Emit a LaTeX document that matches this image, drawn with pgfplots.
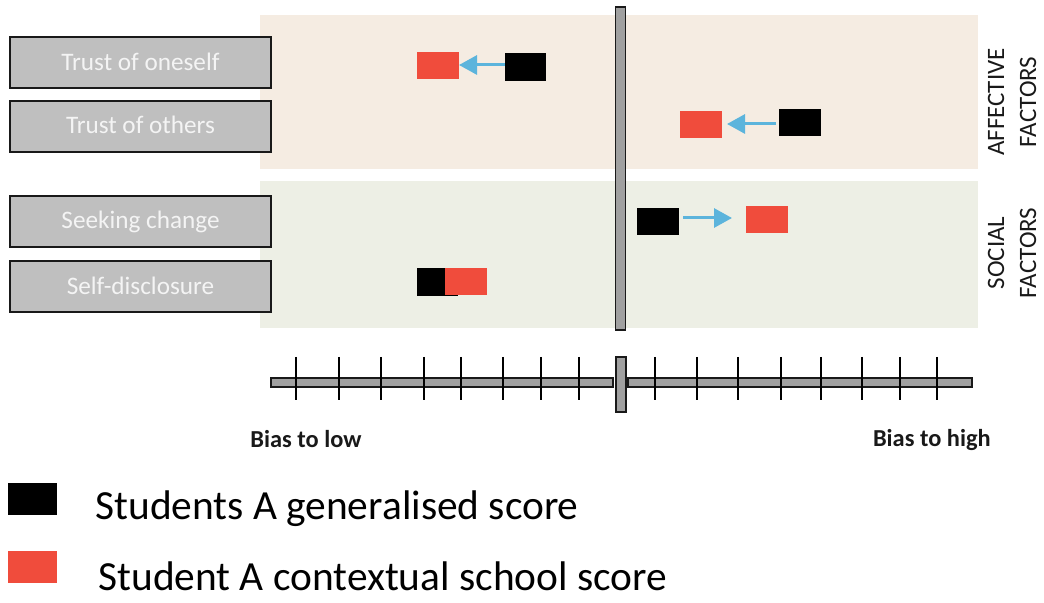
\documentclass[border=0pt]{standalone}
\usepackage{fontspec}
\setmainfont{Carlito}
\usepackage{pgfplots}
\pgfplotsset{compat=1.18}
\usetikzlibrary{arrows.meta}

\definecolor{affbg}{HTML}{F5ECE2}
\definecolor{socbg}{HTML}{EDEFE5}
\definecolor{boxgray}{HTML}{BFBFBF}
\definecolor{bargray}{HTML}{A0A0A0}
\definecolor{ctxred}{HTML}{F04C3C}
\definecolor{arrowblue}{HTML}{5CB4DC}
\definecolor{lbltext}{HTML}{F4F4F4}

\begin{document}
\begin{tikzpicture}
\begin{axis}[
  x=0.5pt, y=0.5pt, y dir=reverse,
  xmin=0, xmax=1044, ymin=0, ymax=603,
  hide axis, clip=false,
]
\path (axis cs:0,0) rectangle (axis cs:1044,603);

% background panels
\addplot[fill=affbg, draw=none] coordinates {(260,15) (978,15) (978,169) (260,169)} -- cycle;
\addplot[fill=socbg, draw=none] coordinates {(260,181) (978,181) (978,328) (260,328)} -- cycle;

% factor label boxes
\addplot[fill=boxgray, draw=black!90, line width=1pt] coordinates {(9.5,37.5) (270.5,37.5) (270.5,88.5) (9.5,88.5)} -- cycle;
\addplot[fill=boxgray, draw=black!90, line width=1pt] coordinates {(9.5,101.5) (270.5,101.5) (270.5,152.5) (9.5,152.5)} -- cycle;
\addplot[fill=boxgray, draw=black!90, line width=1pt] coordinates {(9.5,196.5) (270.5,196.5) (270.5,247.5) (9.5,247.5)} -- cycle;
\addplot[fill=boxgray, draw=black!90, line width=1pt] coordinates {(9.5,261.5) (270.5,261.5) (270.5,312.5) (9.5,312.5)} -- cycle;
\node[anchor=base, text=lbltext, font=\fontsize{12.6}{15}\selectfont] at (axis cs:140.5,71) {Trust of oneself};
\node[anchor=base, text=lbltext, font=\fontsize{12.6}{15}\selectfont] at (axis cs:140.5,133.5) {Trust of others};
\node[anchor=base, text=lbltext, font=\fontsize{12.6}{15}\selectfont] at (axis cs:140.5,229) {Seeking change};
\node[anchor=base, text=lbltext, font=\fontsize{12.6}{15}\selectfont] at (axis cs:140.5,295) {Self-disclosure};

% group labels
\node[rotate=90, align=center, text=black!90, font=\fontsize{12.5}{16}\selectfont] at (axis cs:1012,102) {AFFECTIVE\\FACTORS};
\node[rotate=90, align=center, text=black!90, font=\fontsize{12.5}{16}\selectfont] at (axis cs:1012,253) {SOCIAL\\FACTORS};

% centre divider
\addplot[fill=bargray, draw=black!90, line width=0.6pt] coordinates {(615.5,7) (625.5,7) (625.5,330) (615.5,330)} -- cycle;

% change arrows
\addplot[arrowblue, line width=1.5pt, -{Triangle[length=9pt, width=9.5pt]}] coordinates {(507,65) (459,65)};
\addplot[arrowblue, line width=1.5pt, -{Triangle[length=9pt, width=9.5pt]}] coordinates {(776,124) (727,124)};
\addplot[arrowblue, line width=1.5pt, -{Triangle[length=9pt, width=9.5pt]}] coordinates {(683,218) (732,218)};

% generalised scores (black)
\addplot[black, only marks, mark=square*, mark size=6.6pt, mark options={fill=black, draw=black, line width=0pt, xscale=1.55}]
  coordinates {(525.5,67) (800,122.5) (658,221.5) (437.5,282)};
% contextual school scores (red)
\addplot[ctxred, only marks, mark=square*, mark size=6.5pt, mark options={fill=ctxred, draw=ctxred, line width=0pt, xscale=1.54}]
  coordinates {(438,66) (701,125) (767,220) (466,282)};

% bias scale
\addplot[fill=bargray, draw=black!90, line width=0.6pt] coordinates {(271,378) (613,378) (613,387) (271,387)} -- cycle;
\addplot[fill=bargray, draw=black!90, line width=0.6pt] coordinates {(628,378) (972,378) (972,387) (628,387)} -- cycle;
\addplot[black, only marks, mark=|, mark size=10.75pt, mark options={black, line width=0.7pt}]
  coordinates {(296,378.5) (339,378.5) (381,378.5) (424,378.5) (461,378.5) (503,378.5) (541,378.5) (579,378.5)
               (655,378.5) (697,378.5) (738,378.5) (781,378.5) (821,378.5) (862,378.5) (900,378.5) (937,378.5)};
\addplot[fill=bargray, draw=black!90, line width=0.6pt] coordinates {(616,357) (626,357) (626,412) (616,412)} -- cycle;
\node[anchor=base west, inner sep=0pt, font=\fontsize{12.2}{14}\selectfont\bfseries, text=black!90] at (axis cs:250,448) {Bias to low};
\node[anchor=base east, inner sep=0pt, font=\fontsize{12.2}{14}\selectfont\bfseries, text=black!90] at (axis cs:991,447) {Bias to high};

% legend
\addplot[black, only marks, mark=square*, mark size=7.75pt, mark options={fill=black, draw=black, line width=0pt, xscale=1.58}]
  coordinates {(32.5,499.5)};
\addplot[ctxred, only marks, mark=square*, mark size=7.75pt, mark options={fill=ctxred, draw=ctxred, line width=0pt, xscale=1.58}]
  coordinates {(32.5,567.5)};
\node[anchor=base west, font=\fontsize{20.7}{24}\selectfont, inner sep=0pt] at (axis cs:95,520) {Students A generalised score};
\node[anchor=base west, font=\fontsize{20.7}{24}\selectfont, inner sep=0pt] at (axis cs:98,590.5) {Student A contextual school score};
\end{axis}
\end{tikzpicture}
\end{document}
